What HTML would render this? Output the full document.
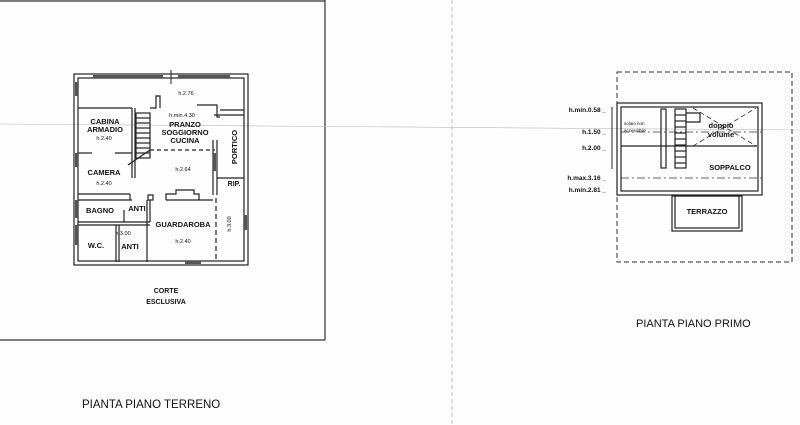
<!DOCTYPE html>
<html><head><meta charset="utf-8"><style>
html,body{margin:0;padding:0;background:#fff;}
svg{display:block;}
text{font-family:"Liberation Sans",Arial,sans-serif;fill:#111;}
</style></head><body>
<svg width="800" height="425" viewBox="0 0 800 425" xmlns="http://www.w3.org/2000/svg">
<rect width="800" height="425" fill="#fdfdfd"/>
<!-- page frame -->
<g stroke="#333" stroke-width="1.2" fill="none">
<line x1="0" y1="1" x2="325" y2="1"/>
<line x1="325" y1="0" x2="325" y2="340"/>
<line x1="0" y1="340" x2="325" y2="340"/>
</g>
<line x1="452" y1="0" x2="452" y2="425" stroke="#aaa" stroke-width="0.8" stroke-dasharray="4,3"/>
<line x1="0" y1="124" x2="800" y2="130" stroke="#bbb" stroke-width="0.6"/>

<!-- ground floor -->
<g stroke="#222" stroke-width="1.2" fill="none">
<rect x="74" y="74" width="174" height="191"/>
<rect x="78" y="78" width="166" height="183"/>
<!-- top strip -->
<polyline points="78,108 132,108"/>
<polyline points="150,108 156,108 156,96 160,96 160,108"/>
<polyline points="197,105 217,105 217,117 220,117"/>
<polyline points="220,110 244,110"/>
<!-- cabina/camera -->
<line x1="132" y1="108" x2="132" y2="178"/>
<line x1="135" y1="108" x2="135" y2="178"/>
<line x1="78" y1="153" x2="92" y2="153"/>
<line x1="115" y1="153" x2="132" y2="153"/>
<line x1="78" y1="194" x2="130" y2="194"/>
<line x1="130" y1="194" x2="130" y2="200"/>
<!-- stair -->
<rect x="136" y="113" width="14" height="45"/>
<line x1="136" y1="118" x2="150" y2="118"/><line x1="136" y1="123" x2="150" y2="123"/>
<line x1="136" y1="128" x2="150" y2="128"/><line x1="136" y1="133" x2="150" y2="133"/>
<line x1="136" y1="138" x2="150" y2="138"/><line x1="136" y1="143" x2="150" y2="143"/>
<line x1="136" y1="148" x2="150" y2="148"/><line x1="136" y1="153" x2="150" y2="153"/>
<line x1="128" y1="165" x2="150" y2="150"/>
<line x1="150" y1="150" x2="215" y2="150" stroke-dasharray="4,3"/>
<!-- portico -->
<line x1="214" y1="115" x2="244" y2="115"/>
<line x1="213" y1="140" x2="213" y2="195"/>
<line x1="217" y1="140" x2="217" y2="178"/>
<line x1="217" y1="178" x2="244" y2="178"/>
<line x1="217" y1="178" x2="217" y2="195"/>
<!-- fireplace -->
<polyline points="166,200 166,194 176,194 176,190 194,190 194,194 199,194 199,200"/>
<line x1="166" y1="200" x2="213" y2="200"/>
<line x1="78" y1="200" x2="132" y2="200"/>
<rect x="148" y="195" width="5" height="5"/>
<!-- bagno/wc -->
<line x1="150" y1="200" x2="150" y2="222"/>
<line x1="147" y1="200" x2="147" y2="262"/>
<line x1="78" y1="222" x2="150" y2="222"/>
<line x1="78" y1="225" x2="150" y2="225"/>
<line x1="116" y1="225" x2="116" y2="262"/>
<line x1="119" y1="225" x2="119" y2="262"/>
<line x1="124" y1="210" x2="124" y2="222"/>
<line x1="216" y1="198" x2="216" y2="260" stroke-dasharray="5,3"/>
</g>
<g fill="#555"><rect x="93" y="75" width="70" height="3"/><rect x="178" y="75" width="52" height="3"/>
<rect x="75" y="82" width="3" height="14"/><rect x="75" y="153" width="3" height="14"/><rect x="75" y="200" width="3" height="18"/><rect x="75" y="225" width="3" height="20"/><rect x="244" y="215" width="3" height="15"/><rect x="185" y="261" width="16" height="3"/><rect x="213" y="153" width="3" height="18"/></g>
<line x1="171" y1="70" x2="171" y2="84" stroke="#222"/>
<g font-weight="bold" font-size="7.5" text-anchor="middle">
<text x="105" y="124">CABINA</text><text x="105" y="132">ARMADIO</text>
<text x="185" y="127">PRANZO</text><text x="185" y="135">SOGGIORNO</text><text x="185" y="143">CUCINA</text>
<text x="104" y="175">CAMERA</text><text x="100" y="213">BAGNO</text><text x="137" y="211">ANTI</text>
<text x="183" y="227">GUARDAROBA</text><text x="96" y="248">W.C.</text><text x="130" y="249">ANTI</text>
<text x="234" y="186" font-size="7">RIP.</text>
<text x="166" y="293" font-size="7">CORTE</text><text x="166" y="304" font-size="7">ESCLUSIVA</text>
<text transform="translate(237,147) rotate(-90)">PORTICO</text>
</g>
<g font-size="5.5" text-anchor="middle">
<text x="186" y="95">h.2.76</text><text x="182" y="117">h.min.4.30</text><text x="104" y="140">h.2.40</text>
<text x="104" y="185">h.2.40</text><text x="183" y="171">h.2.64</text><text x="123" y="235">h.3.00</text>
<text x="183" y="243">h.2.40</text><text transform="translate(231,224) rotate(-90)">h.3.00</text>
</g>
<text x="82" y="408" font-size="11.5">PIANTA PIANO TERRENO</text>

<!-- first floor -->
<rect x="617" y="72" width="175" height="190" fill="none" stroke="#333" stroke-width="1" stroke-dasharray="5,3"/>
<g stroke="#222" stroke-width="1.2" fill="none">
<rect x="617" y="103" width="145" height="92"/>
<rect x="621" y="107" width="137" height="84"/>
<rect x="672" y="196" width="70" height="35"/>
<rect x="675" y="196" width="64" height="32"/>
<rect x="661" y="109" width="5" height="59"/>
<rect x="675" y="109" width="11" height="59"/>
<line x1="675" y1="115" x2="686" y2="115"/><line x1="675" y1="121" x2="686" y2="121"/><line x1="675" y1="127" x2="686" y2="127"/><line x1="675" y1="133" x2="686" y2="133"/><line x1="675" y1="139" x2="686" y2="139"/><line x1="675" y1="145" x2="686" y2="145"/><line x1="675" y1="151" x2="686" y2="151"/><line x1="675" y1="157" x2="686" y2="157"/><line x1="675" y1="163" x2="686" y2="163"/>
<polyline points="686,113 700,113 700,122 686,122"/>
<line x1="621" y1="146" x2="757" y2="146"/>
<line x1="612" y1="107" x2="612" y2="169" stroke-width="1"/>
</g>
<g stroke="#333" stroke-width="0.8" fill="none">
<line x1="693" y1="146" x2="756" y2="108" stroke-dasharray="5,3"/>
<line x1="693" y1="108" x2="756" y2="146" stroke-dasharray="5,3"/>
<line x1="621" y1="132" x2="762" y2="132" stroke-dasharray="8,3,2,3"/>
<line x1="621" y1="178" x2="762" y2="178" stroke-dasharray="8,3,2,3"/>
</g>
<g font-size="6.5" font-weight="bold" text-anchor="end">
<text x="606" y="112">h.min.0.58 _</text><text x="606" y="134">h.1.50 _</text><text x="606" y="150">h.2.00 _</text>
<text x="606" y="180">h.max.3.16 _</text><text x="606" y="192">h.min.2.81 _</text>
</g>
<text x="624" y="125" font-size="4.5">solaio non</text><text x="624" y="132" font-size="4.5">accessibile</text>
<g font-size="7.5" font-weight="bold" text-anchor="middle">
<text x="721" y="128">doppio</text><text x="721" y="137">volume</text>
<text x="730" y="170">SOPPALCO</text><text x="707" y="214">TERRAZZO</text>
</g>
<text x="636" y="327" font-size="11">PIANTA PIANO PRIMO</text>
</svg>
</body></html>
